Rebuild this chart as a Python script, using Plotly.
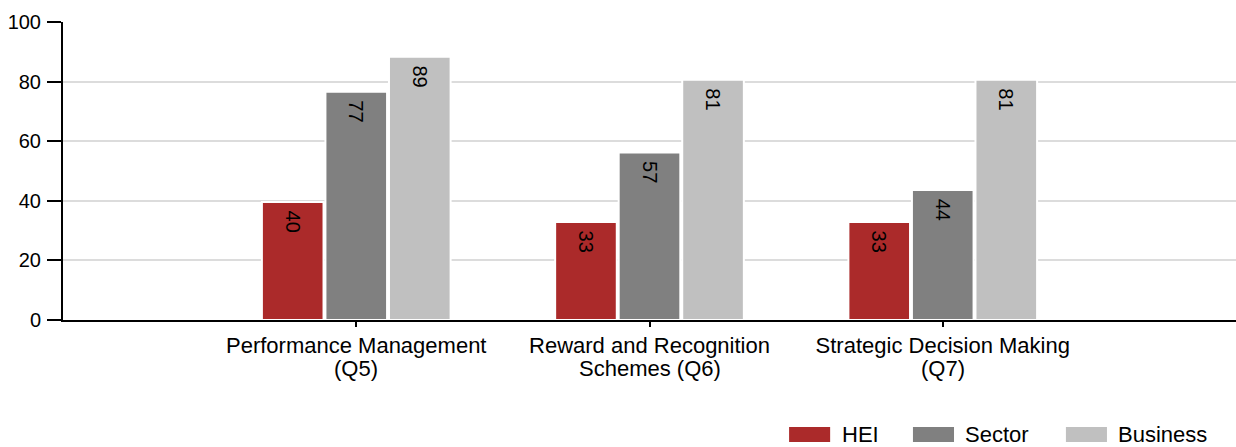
import plotly.graph_objects as go

categories = ["Performance Management", "Reward and Recognition", "Strategic Decision Making"]
category_sublines = ["(Q5)", "Schemes (Q6)", "(Q7)"]
hei = [39.6, 32.9, 32.9]
sector = [76.6, 56.2, 43.6]
business = [88.3, 80.6, 80.6]
hei_labels = ["40", "33", "33"]
sector_labels = ["77", "57", "44"]
business_labels = ["89", "81", "81"]
series_names = ["HEI", "Sector", "Business"]
series_colors = ["#AB2A2A", "#808080", "#C0C0C0"]

FONT = "Liberation Sans, Arial, sans-serif"

fig = go.Figure()
for name, vals, labels, color in zip(series_names, [hei, sector, business],
                                     [hei_labels, sector_labels, business_labels], series_colors):
    fig.add_trace(go.Bar(
        name=name, x=categories, y=vals, text=labels,
        texttemplate="\u00a0%{text}",
        marker=dict(color=color, line=dict(color="white", width=2)),
        textposition="inside", insidetextanchor="end", textangle=90,
        insidetextfont=dict(color="black", size=20, family=FONT),
        showlegend=False,
    ))

# second line of each category label (tighter line spacing than Plotly's default)
for cat, sub in zip(categories, category_sublines):
    fig.add_annotation(x=cat, xref="x", yref="paper", y=-0.163, text=sub,
                       showarrow=False, xanchor="center", yanchor="middle",
                       font=dict(size=22, family=FONT, color="black"))

# Manual legend (wide swatches like the reference), in paper coordinates
legend_x = [0.619, 0.7246, 0.855]   # swatch left edges
sw_w = 0.035
sw_y0, sw_y1 = -0.409, -0.359
for xl, name, color in zip(legend_x, series_names, series_colors):
    fig.add_shape(type="rect", xref="paper", yref="paper",
                  x0=xl, x1=xl + sw_w, y0=sw_y0, y1=sw_y1,
                  fillcolor=color, line=dict(width=0))
    fig.add_annotation(xref="paper", yref="paper", x=xl + sw_w + 0.008, y=(sw_y0 + sw_y1) / 2,
                       text=name, showarrow=False, xanchor="left", yanchor="middle",
                       font=dict(size=22, family=FONT, color="black"))

fig.update_layout(
    width=1236, height=447,
    margin=dict(l=63, r=0, t=22, b=127),
    paper_bgcolor="white", plot_bgcolor="white",
    barmode="group", bargap=0.35, bargroupgap=0.03,
    font=dict(family=FONT, size=20, color="black"),
    xaxis=dict(range=[-1, 3], showline=True, linecolor="black", linewidth=2,
               ticks="outside", ticklen=5, tickwidth=2, tickcolor="black",
               tickfont=dict(size=22), showgrid=False),
    yaxis=dict(range=[0, 100], dtick=20, showline=True, linecolor="black", linewidth=2,
               ticks="outside", ticklen=14, tickwidth=2, tickcolor="black",
               ticklabelstandoff=2,
               tickfont=dict(size=20), showgrid=True, gridcolor="#DCDCDC", gridwidth=2,
               zeroline=False),
)

fig.write_html("out.html", config={"displayModeBar": False},
               post_script="document.body.style.margin='0px';document.body.style.overflow='hidden';")
